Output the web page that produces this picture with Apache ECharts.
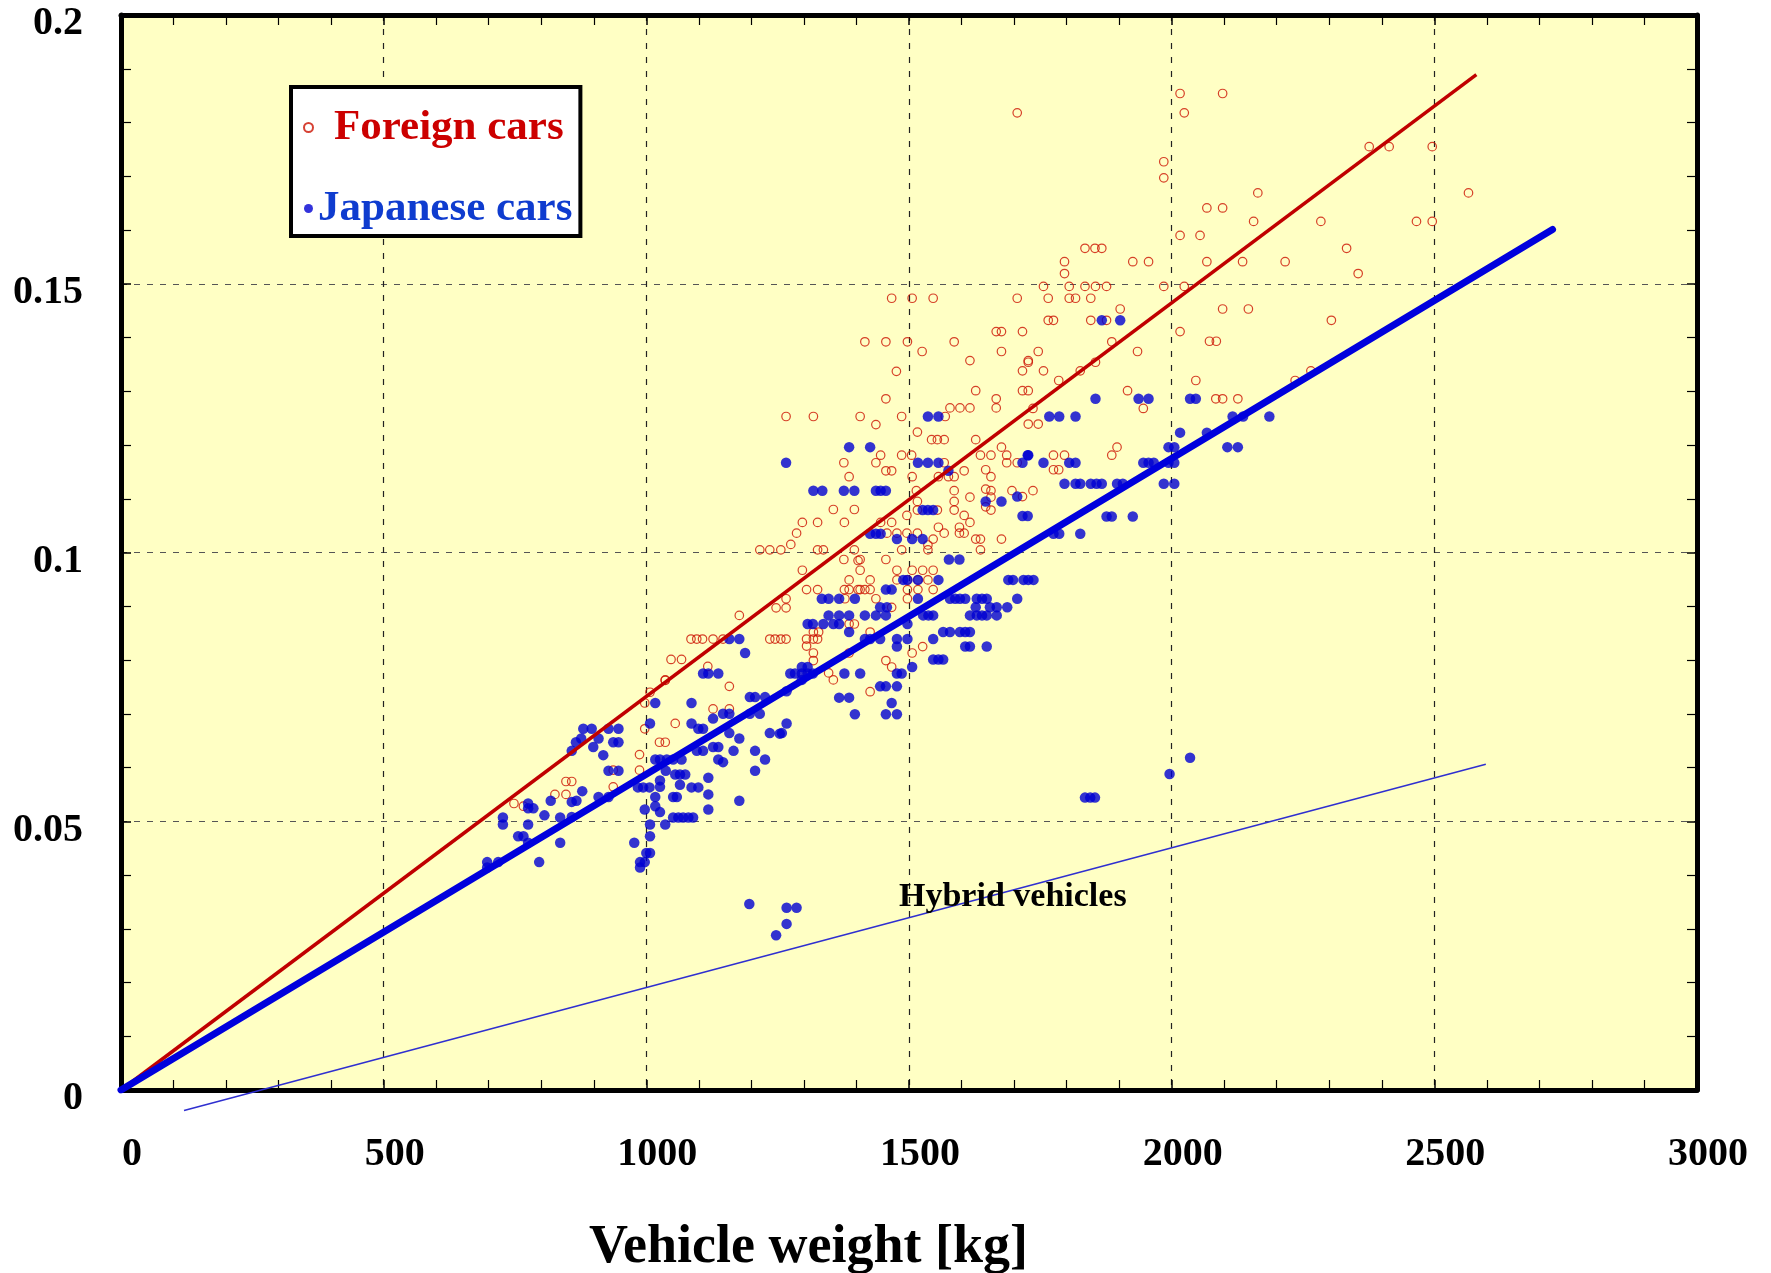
<!DOCTYPE html>
<html>
<head>
<meta charset="utf-8">
<script src="https://cdn.jsdelivr.net/npm/echarts@6/dist/echarts.min.js"></script>
<style>html,body{margin:0;padding:0;background:#fff;}#c{width:1771px;height:1273px;}</style>
</head>
<body>
<div id="c"></div>
<script>
// ---- data ----
const xTicks = [0, 500, 1000, 1500, 2000, 2500, 3000];
const yTicks = [0, 0.05, 0.1, 0.15, 0.2];

const foreignCars = [
[1706,0.1818],[1835,0.1566],[1854,0.1566],[1867,0.1566],[1796,0.1541],[1796,0.1519],[1756,0.1495],[1805,0.1495],[1835,0.1495],[1855,0.1495],[1876,0.1495],
[1467,0.1473],[1506,0.1473],[1546,0.1473],[1706,0.1473],[1765,0.1473],[1805,0.1473],[1817,0.1473],[1846,0.1473],[1902,0.1453],[1765,0.1432],[1775,0.1432],
[1846,0.1432],[1876,0.1432],[1666,0.1411],[1676,0.1411],[1716,0.1411],[1416,0.1392],[1456,0.1392],[1497,0.1392],[1586,0.1392],[1886,0.1392],[1525,0.1374],
[1676,0.1374],[1746,0.1374],[1616,0.1357],[1727,0.1357],
[2016,0.1854],[2097,0.1854],[2024,0.1818],[1985,0.1727],[1985,0.1697],[2376,0.1755],[2414,0.1755],[2496,0.1755],[2565,0.1669],[2164,0.1669],[2067,0.1641],
[2097,0.1641],[2156,0.1616],[2284,0.1616],[2466,0.1616],[2496,0.1616],[2016,0.1590],[2054,0.1590],[2333,0.1566],[1926,0.1541],[1956,0.1541],[2067,0.1541],
[2135,0.1541],[2216,0.1541],[2355,0.1519],[1985,0.1495],[2024,0.1495],[2097,0.1453],[2146,0.1453],[2304,0.1432],[2016,0.1411],[2072,0.1393],[2085,0.1393],
[1935,0.1374],[1855,0.1354],[1826,0.1338],[1785,0.1320],[2046,0.1320],[2235,0.1320],[2265,0.1338],[1916,0.1301],[2084,0.1286],[2097,0.1286],[2126,0.1286],
[1946,0.1268],[1736,0.1268],[1727,0.1239],[1746,0.1239],[1716,0.1301],[1727,0.1301],[1716,0.1338],[1756,0.1338],[1727,0.1354],[1896,0.1196],[1886,0.1181],
[1775,0.1181],[1796,0.1181],[1775,0.1154],[1785,0.1154],[1686,0.1181],[1706,0.1167],[1696,0.1115],[1736,0.1115],[1716,0.1104],
[1476,0.1337],[1627,0.1301],[1666,0.1286],[1666,0.1269],[1456,0.1286],[1266,0.1253],[1318,0.1253],[1407,0.1253],[1486,0.1253],[1437,0.1238],[1569,0.1253],
[1578,0.1269],[1597,0.1269],[1616,0.1269],[1516,0.1224],[1543,0.1210],[1554,0.1210],[1567,0.1210],[1627,0.1210],[1446,0.1181],[1486,0.1181],[1505,0.1181],
[1376,0.1167],[1437,0.1167],[1456,0.1152],[1467,0.1152],[1386,0.1141],[1506,0.1141],[1556,0.1141],[1575,0.1141],[1586,0.1141],[1567,0.1167],[1605,0.1152],
[1636,0.1181],[1656,0.1181],[1676,0.1196],[1686,0.1167],[1646,0.1154],[1656,0.1141],[1646,0.1118],[1514,0.1115],[1586,0.1115],[1616,0.1103],[1656,0.1115],
[1656,0.1103],[1516,0.1095],[1516,0.1079],[1554,0.1079],[1586,0.1095],[1586,0.1079],[1646,0.1085],[1605,0.1069],[1616,0.1056],[1656,0.1079],[1446,0.1056],
[1467,0.1056],[1458,0.1036],[1477,0.1036],[1496,0.1036],[1516,0.1036],[1496,0.1069],[1556,0.1047],[1567,0.1036],[1546,0.1025],[1596,0.1047],[1596,0.1036],
[1605,0.1036],[1627,0.1025],[1636,0.1025],[1676,0.1025],[1536,0.1014],[1536,0.1005],[1636,0.1005],[1486,0.1005],[1376,0.0987],[1407,0.0987],[1456,0.0987],
[1356,0.1080],[1396,0.1080],[1297,0.1056],[1326,0.1056],[1377,0.1056],[1286,0.1036],[1275,0.1015],[1216,0.1005],[1235,0.1005],[1256,0.1005],[1326,0.1005],
[1337,0.1005],[1396,0.1005],[1403,0.0985],[1297,0.0967],[1386,0.0949],[1305,0.0931],[1326,0.0931],[1377,0.0931],[1386,0.0931],[1403,0.0931],[1266,0.0914],
[1247,0.0897],[1266,0.0897],[1177,0.0883],[1085,0.0839],[1096,0.0839],[1107,0.0839],[1127,0.0839],[1146,0.0839],[1235,0.0839],[1245,0.0839],[1256,0.0839],
[1266,0.0839],[1305,0.0839],[1318,0.0839],[1326,0.0839],[1318,0.0852],[1305,0.0826],[1318,0.0813],[1318,0.0799],[1396,0.0867],[1047,0.0801],[1067,0.0801],
[1117,0.0788],[1036,0.0763],[1158,0.0751],[1347,0.0776],[1356,0.0763],
[1407,0.0967],[1426,0.0949],[1477,0.0967],[1506,0.0967],[1526,0.0967],[1546,0.0967],[1477,0.0949],[1497,0.0949],[1517,0.0949],[1536,0.0949],[1407,0.0931],
[1416,0.0931],[1426,0.0931],[1497,0.0931],[1517,0.0931],[1546,0.0931],[1378,0.0914],[1437,0.0914],[1467,0.0898],[1497,0.0914],[1386,0.0867],[1328,0.0852],
[1426,0.0852],[1386,0.0813],[1506,0.0813],[1526,0.0825],[1456,0.0799],[1467,0.0787],[1426,0.0741],
[1007,0.0740],[997,0.0720],[997,0.0672],[1036,0.0762],[1127,0.0709],[1158,0.0709],[1055,0.0682],[1025,0.0647],[1036,0.0647],[987,0.0624],[987,0.0595],
[937,0.0595],[937,0.0564],[847,0.0574],[858,0.0574],[826,0.0550],[847,0.0550],[748,0.0533],[766,0.0528]
];

const japaneseCars = [
[1867,0.1432],[1902,0.1432],
[1855,0.1286],[1937,0.1286],[1956,0.1286],[2035,0.1286],[2046,0.1286],[1767,0.1253],[1786,0.1253],[1817,0.1253],[2116,0.1253],[2136,0.1253],[2186,0.1253],
[2016,0.1223],[2067,0.1223],[1994,0.1196],[2005,0.1196],[2106,0.1196],[2126,0.1196],[1727,0.1181],[1716,0.1167],[1756,0.1167],[1805,0.1167],[1817,0.1167],
[1946,0.1167],[1956,0.1167],[1966,0.1167],[1994,0.1167],[2005,0.1167],[1796,0.1128],[1817,0.1128],[1826,0.1128],[1846,0.1128],[1857,0.1128],[1867,0.1128],
[1896,0.1128],[1907,0.1128],[1985,0.1128],[2005,0.1128],[1706,0.1104],[1876,0.1067],[1886,0.1067],[1926,0.1067],
[1536,0.1253],[1556,0.1253],[1386,0.1196],[1426,0.1196],[1266,0.1167],[1517,0.1167],[1536,0.1167],[1556,0.1167],[1575,0.1152],[1726,0.1181],[1318,0.1115],
[1335,0.1115],[1376,0.1115],[1396,0.1115],[1437,0.1115],[1446,0.1115],[1456,0.1115],[1646,0.1095],[1676,0.1095],[1526,0.1079],[1536,0.1079],[1546,0.1079],
[1716,0.1068],[1726,0.1068],[1426,0.1035],[1437,0.1035],[1446,0.1035],[1477,0.1025],[1506,0.1025],[1526,0.1025],[1775,0.1035],[1786,0.1035],[1826,0.1035],
[1576,0.0987],[1596,0.0987],
[1489,0.0949],[1497,0.0949],[1517,0.0949],[1556,0.0949],[1689,0.0949],[1698,0.0949],[1718,0.0949],[1727,0.0949],[1737,0.0949],[1456,0.0931],[1467,0.0931],
[1334,0.0914],[1347,0.0914],[1367,0.0914],[1397,0.0914],[1517,0.0914],[1578,0.0914],[1588,0.0914],[1597,0.0914],[1607,0.0914],[1629,0.0914],[1639,0.0914],
[1648,0.0914],[1706,0.0914],[1445,0.0898],[1458,0.0898],[1627,0.0898],[1654,0.0898],[1667,0.0898],[1687,0.0898],[1347,0.0883],[1367,0.0883],[1386,0.0883],
[1416,0.0883],[1437,0.0883],[1456,0.0883],[1527,0.0883],[1537,0.0883],[1546,0.0883],[1616,0.0883],[1629,0.0883],[1639,0.0883],[1648,0.0883],[1667,0.0883],
[1307,0.0867],[1317,0.0867],[1337,0.0867],[1356,0.0867],[1367,0.0867],[1497,0.0867],[1386,0.0852],[1565,0.0852],[1578,0.0852],[1597,0.0852],[1607,0.0852],
[1616,0.0852],[1416,0.0839],[1426,0.0839],[1445,0.0839],[1477,0.0839],[1497,0.0839],[1546,0.0839],[1477,0.0825],[1607,0.0825],[1616,0.0825],[1648,0.0825],
[1546,0.0801],[1556,0.0801],[1565,0.0801],[1506,0.0787],[1274,0.0775],[1283,0.0775],[1296,0.0775],[1307,0.0775],[1317,0.0775],[1296,0.0787],[1307,0.0787],
[1377,0.0775],[1407,0.0775],[1477,0.0775],[1486,0.0775],[1267,0.0742],[1296,0.0763],[1445,0.0751],[1456,0.0751],[1477,0.0751],[1367,0.0730],[1386,0.0730],
[1467,0.0720],[1397,0.0699],[1456,0.0699],[1477,0.0699],[1267,0.0682],[1254,0.0663],[1835,0.0544],[1845,0.0544],[1854,0.0544],
[1158,0.0839],[1177,0.0839],[1188,0.0813],[1108,0.0775],[1118,0.0775],[1137,0.0775],
[1017,0.0720],[1086,0.0720],[1007,0.0682],[1086,0.0682],[1099,0.0672],[1108,0.0672],[1127,0.0691],[1146,0.0700],[1158,0.0700],[1197,0.0731],[1207,0.0731],
[1226,0.0731],[1197,0.0700],[1216,0.0700],[1258,0.0664],[1235,0.0664],[1158,0.0664],[1177,0.0654],[1127,0.0638],[1137,0.0638],[1166,0.0631],[1096,0.0631],
[1108,0.0631],[1207,0.0631],[1226,0.0615],[1207,0.0594],[1137,0.0615],[1146,0.0610],[1017,0.0615],[1026,0.0615],[1039,0.0615],[1051,0.0615],[1067,0.0615],
[1037,0.0594],[1055,0.0587],[1064,0.0587],[1074,0.0587],[1064,0.0568],[1086,0.0563],[1099,0.0563],[1118,0.0581],[1118,0.0550],[1118,0.0522],[1177,0.0538],
[1026,0.0576],[1026,0.0564],[984,0.0563],[994,0.0563],[1006,0.0563],[1017,0.0545],[1051,0.0545],[1058,0.0545],[1017,0.0528],[1026,0.0517],[1051,0.0507],
[1061,0.0507],[1070,0.0507],[1080,0.0507],[1089,0.0507],[997,0.0522],[1036,0.0494],[1007,0.0494],[1007,0.0472],[977,0.0460],[1000,0.0441],[1007,0.0441],
[988,0.0424],[997,0.0424],[988,0.0414],[880,0.0672],[896,0.0672],[876,0.0654],[866,0.0647],[909,0.0654],[899,0.0638],[918,0.0623],[928,0.0672],[947,0.0672],
[937,0.0647],[947,0.0647],[858,0.0631],[928,0.0594],[947,0.0594],[878,0.0556],[909,0.0545],[928,0.0545],[858,0.0536],[867,0.0538],[858,0.0508],[818,0.0538],
[775,0.0533],[785,0.0524],[775,0.0524],[806,0.0511],[836,0.0507],[727,0.0507],[727,0.0494],[775,0.0494],[756,0.0472],[766,0.0472],[775,0.0460],[836,0.0460],
[697,0.0424],[718,0.0424],[697,0.0414],[796,0.0424]
];

const hybridCars = [[1196,0.0346],[1267,0.0339],[1286,0.0339],[1267,0.0309],[1247,0.0288],[1996,0.0588],[2035,0.0618]];

const foreignFit = [[0,0],[2580,0.1889]];
const japaneseFit = [[0,0],[2725,0.1601]];
const hybridFit = [[120,-0.0038],[2598,0.0606]];

// ---- chart ----
const FONT = 'Liberation Serif';
const chart = echarts.init(document.getElementById('c'), null, {renderer:'canvas'});

const baseAxisLine = {show:true, onZero:false, lineStyle:{color:'#000', width:5}};
const tickStyle = {show:true, inside:true, length:10, lineStyle:{color:'#000', width:1.5}};
const minorStyle = {show:true, splitNumber:5, length:10, lineStyle:{color:'#000', width:1.2}};

chart.setOption({
  animation:false,
  backgroundColor:'#ffffff',
  title:{
    text:'Vehicle weight [kg]', left:589, top:1221, padding:0,
    textStyle:{fontFamily:FONT, fontWeight:'bold', fontSize:54, color:'#000'}
  },
  legend:{
    orient:'vertical', left:291, top:87,
    padding:[19,8,6,12], itemGap:38,
    backgroundColor:'#ffffff', borderColor:'#000', borderWidth:4,
    itemWidth:9, itemHeight:9,
    data:[{name:'Foreign cars', icon:'circle'},{name:'Japanese cars', icon:'circle'}],
    formatter:function(n){ return n==='Foreign cars' ? '{f|'+n+'}' : '{j|'+n+'}'; },
    textStyle:{
      fontFamily:FONT, fontWeight:'bold', fontSize:43,
      rich:{
        f:{fontFamily:FONT, fontWeight:'bold', fontSize:43, color:'#cc0000', padding:[0,0,0,16]},
        j:{fontFamily:FONT, fontWeight:'bold', fontSize:43, color:'#0f3ccf'}
      }
    }
  },
  grid:{left:121, right:74, top:15, bottom:183, show:true, backgroundColor:'#ffffc4', borderWidth:0, containLabel:false},
  graphic:[{
    type:'text', left:899, top:880, z:20,
    style:{text:'Hybrid vehicles', font:'bold 34px "Liberation Serif"', fill:'#000'}
  }],
  xAxis:[{
    type:'value', min:xTicks[0], max:xTicks[xTicks.length-1], interval:500, position:'bottom',
    axisLine:baseAxisLine, axisTick:tickStyle, minorTick:minorStyle,
    splitLine:{show:true, lineStyle:{color:'#222', width:1.2, type:[6,8]}},
    axisLabel:{fontFamily:FONT, fontWeight:'bold', fontSize:40, color:'#000', margin:45, padding:[0,0,0,22],
      formatter:function(v){ return String(v); }}
  },{
    type:'value', min:xTicks[0], max:xTicks[xTicks.length-1], interval:500, position:'top',
    axisLine:baseAxisLine, axisTick:tickStyle, minorTick:minorStyle,
    splitLine:{show:false}, axisLabel:{show:false}
  }],
  yAxis:[{
    type:'value', min:yTicks[0], max:yTicks[yTicks.length-1], interval:0.05, position:'left',
    axisLine:baseAxisLine, axisTick:tickStyle, minorTick:minorStyle,
    splitLine:{show:true, lineStyle:{color:'#555', width:1.2, type:[6,7]}},
    axisLabel:{fontFamily:FONT, fontWeight:'bold', fontSize:40, color:'#000', margin:38,
      verticalAlign:'top', lineHeight:18,
      formatter:function(v){ return String(+v.toFixed(2)); }}
  },{
    type:'value', min:yTicks[0], max:yTicks[yTicks.length-1], interval:0.05, position:'right',
    axisLine:baseAxisLine, axisTick:tickStyle, minorTick:minorStyle,
    splitLine:{show:false}, axisLabel:{show:false}
  }],
  series:[
    {
      name:'Foreign cars', type:'scatter', xAxisIndex:0, yAxisIndex:0,
      symbol:'circle', symbolSize:8.5, data:foreignCars, z:3,
      itemStyle:{color:'rgba(0,0,0,0)', borderColor:'#cc1100', borderWidth:1.2}
    },
    {
      name:'Japanese cars', type:'scatter', xAxisIndex:0, yAxisIndex:0,
      symbol:'circle', symbolSize:10.5, data:japaneseCars.concat(hybridCars), z:4,
      itemStyle:{color:'#0000d2'}
    },
    {
      name:'Foreign fit', type:'line', data:foreignFit, symbol:'none', z:5, silent:true,
      lineStyle:{color:'#c00000', width:3.5}
    },
    {
      name:'Japanese fit', type:'line', data:japaneseFit, symbol:'none', z:6, silent:true,
      lineStyle:{color:'#0000dd', width:7, cap:'round'}
    },
    {
      name:'Hybrid fit', type:'line', data:hybridFit, symbol:'none', z:6, silent:true, clip:false,
      lineStyle:{color:'#2f2fd0', width:1.5}
    }
  ]
});
</script>
</body>
</html>
